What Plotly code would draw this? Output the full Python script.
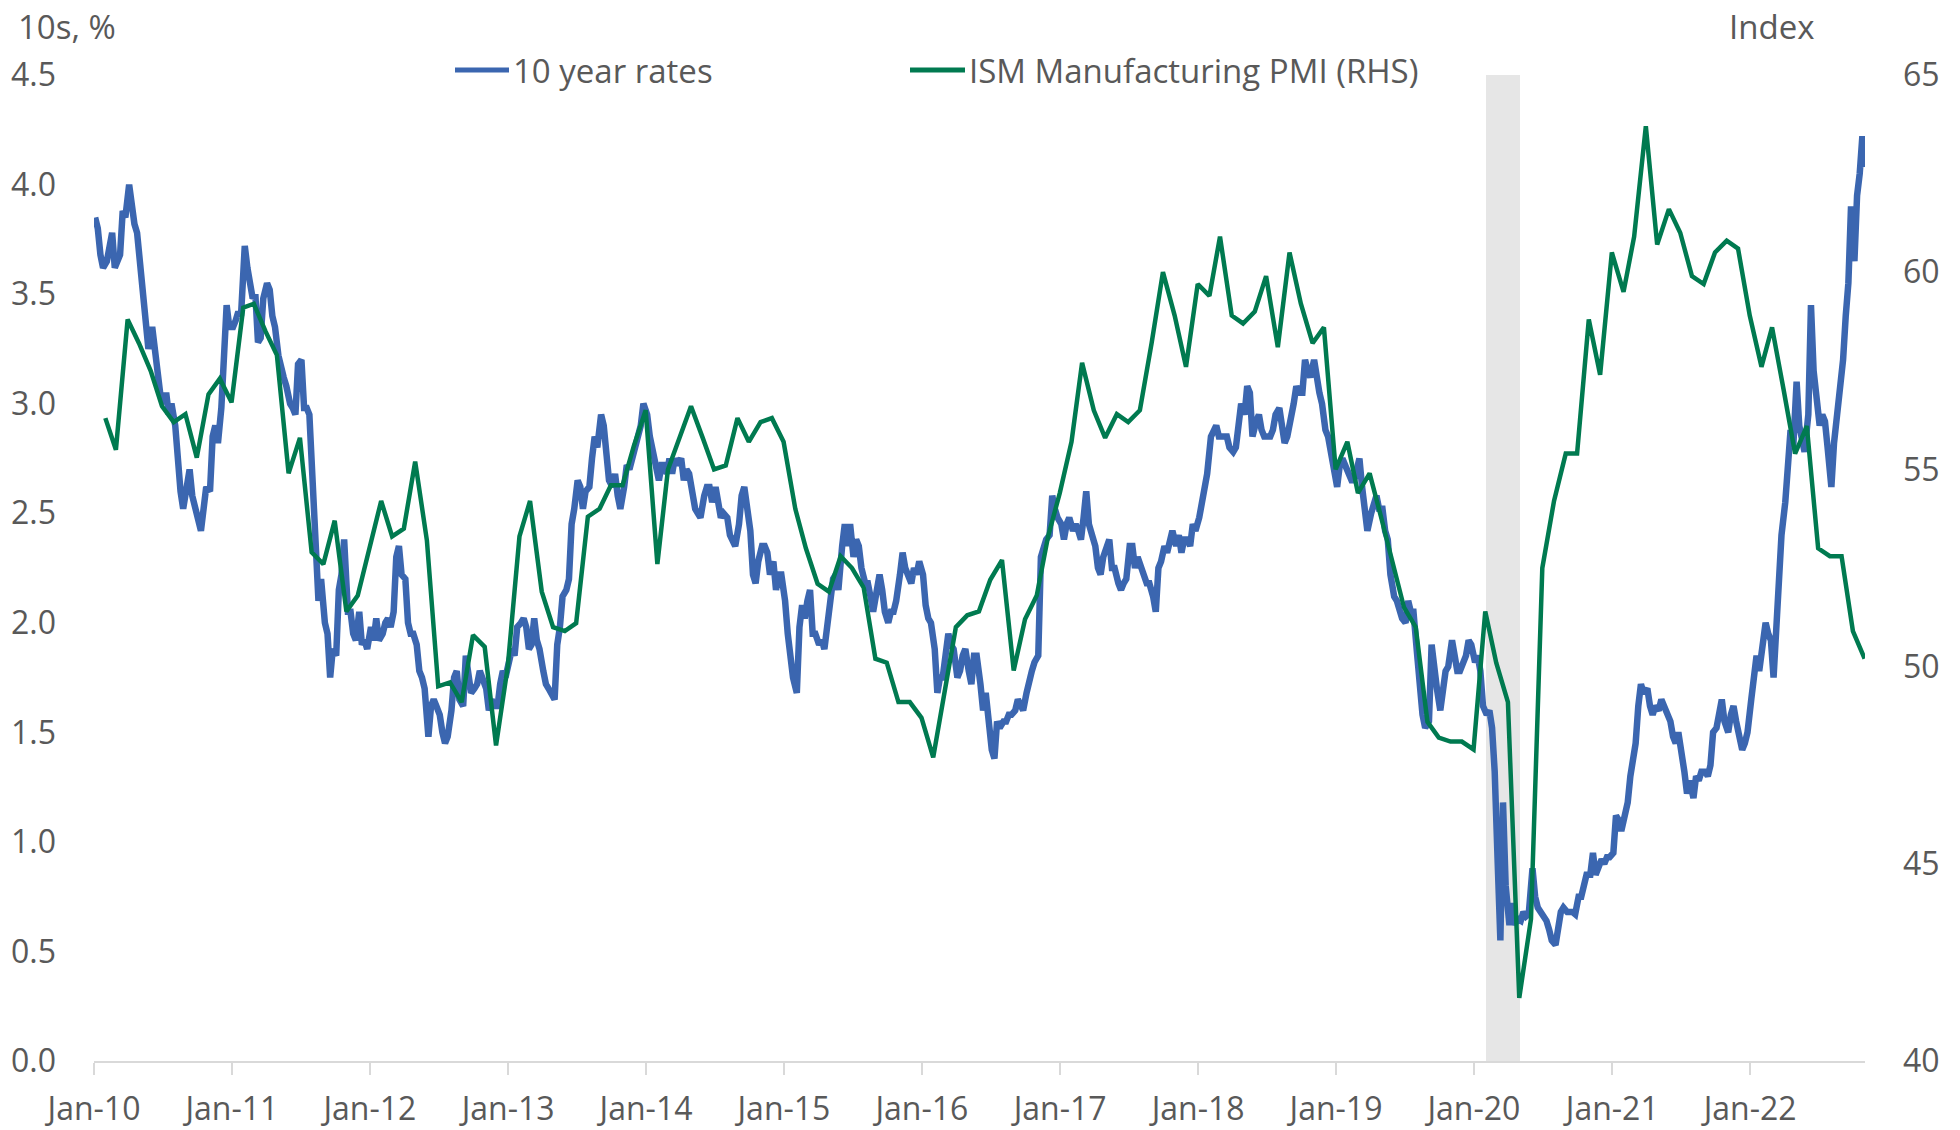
import plotly.graph_objects as go
import pandas as pd

# ---------------- DATA ----------------
# 10-year rates (%), four readings per month (around the 4th, 11th, 18th, 25th)
rates_2010 = [3.85, 3.80, 3.68, 3.62, 3.65, 3.70, 3.78, 3.62, 3.65, 3.68, 3.88, 3.85,
              4.00, 3.88, 3.82, 3.78, 3.62, 3.48, 3.30, 3.25, 3.35, 3.25, 3.18, 3.05,
              3.00, 3.05, 2.95, 3.00, 2.90, 2.72, 2.60, 2.52, 2.62, 2.70, 2.58, 2.52,
              2.48, 2.42, 2.52, 2.62, 2.60, 2.85, 2.90, 2.82, 2.98, 3.30, 3.45, 3.35]
rates_2011 = [3.35, 3.38, 3.42, 3.40, 3.72, 3.62, 3.55, 3.48, 3.50, 3.28, 3.30, 3.48,
              3.55, 3.52, 3.40, 3.35, 3.22, 3.15, 3.12, 3.08, 3.00, 2.98, 2.95, 3.18,
              3.20, 2.98, 2.98, 2.95, 2.55, 2.25, 2.10, 2.20, 2.00, 1.95, 1.75, 1.88,
              1.85, 2.15, 2.22, 2.38, 2.05, 2.05, 1.95, 1.92, 2.05, 1.90, 1.92, 1.88]
rates_2012 = [1.98, 1.92, 2.02, 1.92, 1.95, 2.00, 2.02, 1.98, 2.05, 2.30, 2.35, 2.22,
              2.20, 2.00, 1.95, 1.95, 1.90, 1.78, 1.75, 1.70, 1.48, 1.62, 1.65, 1.62,
              1.58, 1.50, 1.45, 1.48, 1.60, 1.75, 1.78, 1.65, 1.62, 1.85, 1.78, 1.68,
              1.70, 1.72, 1.78, 1.75, 1.70, 1.60, 1.65, 1.62, 1.62, 1.72, 1.78, 1.75]
rates_2013 = [1.85, 1.88, 1.85, 1.98, 2.00, 2.02, 1.98, 1.88, 1.90, 2.02, 1.92, 1.88,
              1.78, 1.72, 1.70, 1.68, 1.65, 1.90, 1.98, 2.12, 2.15, 2.20, 2.45, 2.52,
              2.65, 2.62, 2.52, 2.60, 2.62, 2.75, 2.85, 2.80, 2.95, 2.90, 2.72, 2.65,
              2.62, 2.68, 2.58, 2.52, 2.62, 2.72, 2.70, 2.75, 2.80, 2.85, 2.90, 3.00]
rates_2014 = [2.95, 2.85, 2.80, 2.72, 2.65, 2.72, 2.72, 2.68, 2.75, 2.68, 2.75, 2.72,
              2.75, 2.65, 2.70, 2.68, 2.60, 2.52, 2.50, 2.48, 2.58, 2.62, 2.62, 2.55,
              2.62, 2.55, 2.48, 2.50, 2.48, 2.40, 2.38, 2.35, 2.45, 2.58, 2.62, 2.52,
              2.42, 2.22, 2.18, 2.28, 2.35, 2.35, 2.32, 2.22, 2.28, 2.15, 2.22, 2.22]
rates_2015 = [2.10, 1.95, 1.82, 1.75, 1.68, 1.98, 2.08, 2.02, 2.10, 2.15, 1.95, 1.95,
              1.90, 1.92, 1.88, 2.00, 2.15, 2.20, 2.22, 2.15, 2.35, 2.45, 2.35, 2.45,
              2.30, 2.38, 2.35, 2.25, 2.18, 2.18, 2.12, 2.05, 2.15, 2.22, 2.15, 2.05,
              2.00, 2.05, 2.05, 2.10, 2.22, 2.32, 2.25, 2.22, 2.18, 2.25, 2.22, 2.28]
rates_2016 = [2.22, 2.08, 2.02, 2.00, 1.88, 1.68, 1.75, 1.75, 1.85, 1.95, 1.90, 1.88,
              1.75, 1.78, 1.85, 1.88, 1.78, 1.72, 1.85, 1.85, 1.72, 1.60, 1.68, 1.55,
              1.42, 1.38, 1.55, 1.52, 1.55, 1.55, 1.58, 1.58, 1.60, 1.65, 1.62, 1.60,
              1.68, 1.75, 1.78, 1.82, 1.85, 2.30, 2.35, 2.38, 2.40, 2.58, 2.52, 2.48]
rates_2017 = [2.45, 2.38, 2.45, 2.48, 2.42, 2.45, 2.42, 2.38, 2.48, 2.60, 2.45, 2.40,
              2.35, 2.25, 2.22, 2.30, 2.35, 2.38, 2.25, 2.25, 2.18, 2.15, 2.18, 2.20,
              2.35, 2.35, 2.25, 2.30, 2.25, 2.22, 2.18, 2.18, 2.12, 2.05, 2.25, 2.28,
              2.35, 2.32, 2.38, 2.42, 2.35, 2.40, 2.32, 2.38, 2.38, 2.35, 2.45, 2.42]
rates_2018 = [2.48, 2.55, 2.65, 2.68, 2.85, 2.88, 2.90, 2.85, 2.85, 2.85, 2.85, 2.80,
              2.78, 2.80, 2.92, 3.00, 2.95, 3.08, 3.05, 2.85, 2.92, 2.95, 2.88, 2.85,
              2.85, 2.85, 2.88, 2.95, 2.98, 2.88, 2.82, 2.85, 2.92, 3.00, 3.08, 3.05,
              3.05, 3.20, 3.15, 3.12, 3.20, 3.10, 3.05, 3.00, 2.88, 2.85, 2.78, 2.72]
rates_2019 = [2.62, 2.72, 2.75, 2.72, 2.68, 2.65, 2.65, 2.70, 2.75, 2.62, 2.48, 2.42,
              2.50, 2.55, 2.58, 2.52, 2.52, 2.42, 2.38, 2.22, 2.12, 2.10, 2.05, 2.02,
              2.00, 2.10, 2.05, 2.05, 1.85, 1.70, 1.58, 1.52, 1.55, 1.90, 1.78, 1.70,
              1.60, 1.72, 1.78, 1.80, 1.92, 1.85, 1.78, 1.78, 1.82, 1.85, 1.92, 1.90]
rates_2020 = [1.82, 1.85, 1.78, 1.62, 1.58, 1.60, 1.52, 1.32, 0.90, 0.55, 1.18, 0.80,
              0.62, 0.72, 0.62, 0.65, 0.64, 0.68, 0.66, 0.67, 0.88, 0.75, 0.70, 0.68,
              0.66, 0.64, 0.60, 0.55, 0.53, 0.62, 0.68, 0.70, 0.68, 0.68, 0.68, 0.67,
              0.75, 0.75, 0.80, 0.85, 0.85, 0.95, 0.85, 0.88, 0.92, 0.90, 0.93, 0.93]
rates_2021 = [0.95, 1.12, 1.10, 1.05, 1.12, 1.18, 1.30, 1.40, 1.45, 1.62, 1.72, 1.68,
              1.70, 1.62, 1.58, 1.62, 1.60, 1.65, 1.62, 1.58, 1.55, 1.48, 1.45, 1.50,
              1.42, 1.32, 1.22, 1.28, 1.20, 1.30, 1.28, 1.32, 1.32, 1.30, 1.35, 1.50,
              1.52, 1.58, 1.65, 1.55, 1.50, 1.58, 1.62, 1.55, 1.45, 1.42, 1.45, 1.50]
rates_2022 = [1.65, 1.75, 1.85, 1.78, 1.90, 2.00, 1.95, 1.92, 1.75, 2.00, 2.15, 2.40,
              2.55, 2.75, 2.88, 2.80, 3.10, 2.90, 2.85, 2.78, 2.95, 3.45, 3.15, 3.05,
              2.90, 2.95, 2.92, 2.80, 2.62, 2.82, 2.92, 3.05, 3.20, 3.40, 3.55, 3.90,
              3.65, 3.95, 4.05, 4.22]
rates_tail_date = "2022-10-31"
rates_tail_value = 4.08
reading_days = [4, 11, 18, 25]

# ISM Manufacturing PMI (index), monthly, Jan-2010 .. Oct-2022
pmi_2010 = [56.3, 55.5, 58.8, 58.2, 57.5, 56.6, 56.2, 56.4, 55.3, 56.9, 57.3, 56.7]
pmi_2011 = [59.1, 59.2, 58.5, 57.9, 54.9, 55.8, 52.9, 52.6, 53.7, 51.4, 51.8, 53.0]
pmi_2012 = [54.2, 53.3, 53.5, 55.2, 53.2, 49.5, 49.6, 49.1, 50.8, 50.5, 48.0, 50.0]
pmi_2013 = [53.3, 54.2, 51.9, 51.0, 50.9, 51.1, 53.8, 54.0, 54.6, 54.6, 55.6, 56.5]
pmi_2014 = [52.6, 55.0, 55.8, 56.6, 55.8, 55.0, 55.1, 56.3, 55.7, 56.2, 56.3, 55.7]
pmi_2015 = [54.0, 53.0, 52.1, 51.9, 52.8, 52.5, 52.0, 50.2, 50.1, 49.1, 49.1, 48.7]
pmi_2016 = [47.7, 49.3, 51.0, 51.3, 51.4, 52.2, 52.7, 49.9, 51.2, 51.8, 53.3, 54.4]
pmi_2017 = [55.7, 57.7, 56.5, 55.8, 56.4, 56.2, 56.5, 58.2, 60.0, 58.9, 57.6, 59.7]
pmi_2018 = [59.4, 60.9, 58.9, 58.7, 59.0, 59.9, 58.1, 60.5, 59.2, 58.2, 58.6, 55.0]
pmi_2019 = [55.7, 54.4, 54.9, 53.8, 52.6, 51.5, 51.0, 48.6, 48.2, 48.1, 48.1, 47.9]
pmi_2020 = [51.4, 50.1, 49.1, 41.6, 43.6, 52.5, 54.2, 55.4, 55.4, 58.8, 57.4, 60.5]
pmi_2021 = [59.5, 60.9, 63.7, 60.7, 61.6, 61.0, 59.9, 59.7, 60.5, 60.8, 60.6, 58.9]
pmi_2022 = [57.6, 58.6, 57.0, 55.4, 56.1, 53.0, 52.8, 52.8, 50.9, 50.2]

# Shaded period (drawn as business-day columns, like the original)
shade_start = "2020-02-03"
shade_end = "2020-04-30"
shade_height = 4.5

# Labels
rates_name = "10 year rates"
pmi_name = "ISM Manufacturing PMI (RHS)"
left_title = "10s, %"
right_title = "Index"

# ---------------- BUILD SERIES ----------------
rate_years = {2010: rates_2010, 2011: rates_2011, 2012: rates_2012, 2013: rates_2013,
              2014: rates_2014, 2015: rates_2015, 2016: rates_2016, 2017: rates_2017,
              2018: rates_2018, 2019: rates_2019, 2020: rates_2020, 2021: rates_2021,
              2022: rates_2022}
rate_x, rate_y = [], []
for yr, vals in rate_years.items():
    for i, v in enumerate(vals):
        rate_x.append(pd.Timestamp(yr, i // 4 + 1, reading_days[i % 4]))
        rate_y.append(v)
rate_x.append(pd.Timestamp(rates_tail_date))
rate_y.append(rates_tail_value)

pmi_years = {2010: pmi_2010, 2011: pmi_2011, 2012: pmi_2012, 2013: pmi_2013,
             2014: pmi_2014, 2015: pmi_2015, 2016: pmi_2016, 2017: pmi_2017,
             2018: pmi_2018, 2019: pmi_2019, 2020: pmi_2020, 2021: pmi_2021,
             2022: pmi_2022}
pmi_x, pmi_y = [], []
for yr, vals in pmi_years.items():
    for i, v in enumerate(vals):
        pmi_x.append(pd.Timestamp(yr, i + 1, 1) + pd.offsets.MonthEnd(0))
        pmi_y.append(v)

shade_x = pd.bdate_range(shade_start, shade_end)
shade_y = [shade_height] * len(shade_x)

# ---------------- STYLE ----------------
BLUE = "#3B66B0"
GREEN = "#007A50"
TEXT = "#595959"
AXIS = "#D9D9D9"
SHADE = "#E6E6E6"
FONT = "Open Sans"

W, H = 1960, 1130
ML, MR, MT, MB = 94, 95, 75, 69
PW, PH = W - ML - MR, H - MT - MB


def px_x(x):  # screen pixel -> paper
    return (x - ML) / PW


def px_y(y):
    return (H - MB - y) / PH


fig = go.Figure()
fig.add_trace(go.Bar(x=shade_x, y=shade_y, width=86400000,
                     marker=dict(color=SHADE, line=dict(width=0)),
                     yaxis="y", showlegend=False, hoverinfo="skip", name="shade"))
fig.add_trace(go.Scatter(x=rate_x, y=rate_y, name=rates_name, mode="lines",
                         line=dict(color=BLUE, width=6.5), yaxis="y", showlegend=False))
fig.add_trace(go.Scatter(x=pmi_x, y=pmi_y, name=pmi_name, mode="lines",
                         line=dict(color=GREEN, width=4.5), yaxis="y2", showlegend=False))

# legend drawn as line samples + text
leg_y = px_y(70)
for x0, x1, col in [(455, 509, BLUE), (910, 965, GREEN)]:
    fig.add_shape(type="line", xref="paper", yref="paper", x0=px_x(x0), x1=px_x(x1),
                  y0=leg_y, y1=leg_y, line=dict(color=col, width=5))
annos = [
    dict(text=rates_name, x=px_x(511), y=leg_y, xanchor="left", yanchor="middle"),
    dict(text=pmi_name, x=px_x(967), y=leg_y, xanchor="left", yanchor="middle"),
    dict(text=left_title, x=px_x(16), y=px_y(26), xanchor="left", yanchor="middle"),
    dict(text=right_title, x=px_x(1816), y=px_y(26), xanchor="right", yanchor="middle"),
]
for a in annos:
    fig.add_annotation(xref="paper", yref="paper", showarrow=False,
                       font=dict(family=FONT, size=33, color=TEXT), **a)

fig.update_layout(
    width=W, height=H,
    margin=dict(l=ML, r=MR, t=MT, b=MB, autoexpand=False),
    paper_bgcolor="white", plot_bgcolor="white",
    font=dict(family=FONT, size=32, color=TEXT),
    showlegend=False, bargap=0,
    xaxis=dict(type="date", range=["2010-01-01", "2022-11-01"], tickformat="%b-%y",
               dtick="M12", tick0="2010-01-01", ticks="outside", ticklen=12,
               tickwidth=2, tickcolor=AXIS, showline=True, linecolor=AXIS, linewidth=2,
               showgrid=False, zeroline=False, ticklabelstandoff=7, automargin=False,
               tickfont=dict(family=FONT, size=32, color=TEXT)),
    yaxis=dict(range=[0, 4.5], dtick=0.5, tick0=0, tickformat=".1f", showgrid=False,
               zeroline=False, showline=False, ticks="", ticklabelstandoff=37,
               automargin=False, tickfont=dict(family=FONT, size=32, color=TEXT)),
    yaxis2=dict(range=[40, 65], dtick=5, tick0=40, overlaying="y", side="right",
                showgrid=False, zeroline=False, showline=False, ticks="",
                ticklabelstandoff=37, automargin=False,
                tickfont=dict(family=FONT, size=32, color=TEXT)),
)

fig.write_html("out.html", config={"displayModeBar": False},
               post_script="document.body.style.margin='0';document.body.style.overflow='hidden';")
